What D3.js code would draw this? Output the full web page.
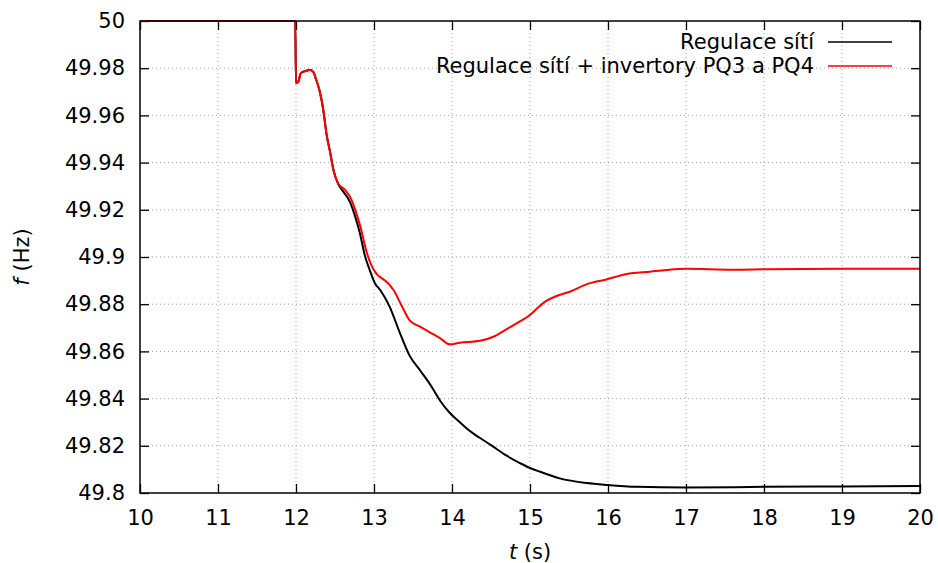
<!DOCTYPE html>
<html>
<head>
<meta charset="utf-8">
<script src="https://cdn.jsdelivr.net/npm/d3@7"></script>
<style>
  body { margin: 0; background: #fff; }
  text { font-family: "DejaVu Sans", sans-serif; }
</style>
</head>
<body>
<div id="container"></div>
<script>
/* DATA */
const xTicks = [10, 11, 12, 13, 14, 15, 16, 17, 18, 19, 20];
const yTicks = [49.8, 49.82, 49.84, 49.86, 49.88, 49.9, 49.92, 49.94, 49.96, 49.98, 50];

const blackT = [10, 11.99, 12.0, 12.03, 12.06, 12.12, 12.18, 12.22, 12.26, 12.31, 12.35, 12.39, 12.44, 12.48, 12.54, 12.6, 12.69, 12.76, 12.82, 12.88, 12.95, 13.01, 13.08, 13.2, 13.33, 13.46, 13.59, 13.72, 13.85, 13.97, 14.1, 14.2, 14.35, 14.5, 14.7, 14.87, 15.0, 15.13, 15.38, 15.73, 15.99, 16.37, 17.0, 18.0, 19.0, 20.0];
const blackF = [50, 50, 49.9736, 49.9743, 49.9778, 49.9788, 49.9792, 49.9785, 49.975, 49.9694, 49.9623, 49.9524, 49.9439, 49.9369, 49.931, 49.928, 49.9235, 49.917, 49.910, 49.901, 49.894, 49.889, 49.886, 49.879, 49.868, 49.858, 49.852, 49.846, 49.839, 49.834, 49.830, 49.827, 49.8235, 49.8203, 49.8158, 49.8127, 49.8106, 49.8090, 49.8062, 49.8042, 49.8034, 49.8026, 49.8023, 49.8026, 49.8028, 49.803];

const redT = [10, 11.99, 12.0, 12.03, 12.06, 12.12, 12.18, 12.22, 12.26, 12.31, 12.35, 12.39, 12.44, 12.48, 12.54, 12.63, 12.69, 12.76, 12.82, 12.91, 12.96, 13.03, 13.1, 13.16, 13.25, 13.36, 13.46, 13.59, 13.72, 13.85, 13.97, 14.1, 14.36, 14.53, 14.62, 14.74, 14.86, 15.0, 15.1, 15.2, 15.35, 15.51, 15.73, 15.98, 16.24, 16.54, 16.75, 17.0, 17.6, 18.03, 19.0, 20.0];
const redF = [50, 50, 49.9736, 49.9743, 49.9778, 49.9788, 49.9792, 49.9785, 49.975, 49.9694, 49.9623, 49.9524, 49.9439, 49.9369, 49.9312, 49.9284, 49.9256, 49.920, 49.9135, 49.9016, 49.897, 49.893, 49.891, 49.8895, 49.886, 49.879, 49.873, 49.8705, 49.868, 49.8655, 49.863, 49.8637, 49.8645, 49.8662, 49.8678, 49.8702, 49.8725, 49.8754, 49.8785, 49.8812, 49.8836, 49.8853, 49.8885, 49.8905, 49.8928, 49.8938, 49.8945, 49.895, 49.8946, 49.8948, 49.895, 49.895];

const seriesNames = ["Regulace sítí", "Regulace sítí + invertory PQ3 a PQ4"];
const seriesColors = ["#000000", "#ff0000"];

/* CONSTANTS */
const width = 938, height = 563;
const pLeft = 140, pRight = 920, pTop = 21, pBottom = 493;
const tickLen = 9;
const fontSize = "21px";

const svg = d3.select("#container").append("svg")
  .attr("width", width)
  .attr("height", height);

/* SCALES */
const xScale = d3.scaleLinear().domain([10, 20]).range([pLeft, pRight]);
const yScale = d3.scaleLinear().domain([49.8, 50]).range([pBottom, pTop]);

/* GRID */
svg.append("g").selectAll("line")
  .data(xTicks.slice(1, -1))
  .join("line")
  .attr("x1", d => xScale(d)).attr("x2", d => xScale(d))
  .attr("y1", pTop).attr("y2", pBottom)
  .attr("stroke", "#a0a0a0").attr("stroke-width", 1)
  .attr("stroke-dasharray", "1,3");

svg.append("g").selectAll("line")
  .data(yTicks.slice(1, -1))
  .join("line")
  .attr("y1", d => yScale(d)).attr("y2", d => yScale(d))
  .attr("x1", pLeft).attr("x2", pRight)
  .attr("stroke", "#a0a0a0").attr("stroke-width", 1)
  .attr("stroke-dasharray", "1,3");

/* AXES (gnuplot style: inward ticks, mirrored) */
const xAxis = d3.axisBottom(xScale).tickValues(xTicks).tickSizeInner(-tickLen).tickSizeOuter(0).tickPadding(17).tickFormat(d3.format("d"));
const yAxis = d3.axisLeft(yScale).tickValues(yTicks).tickSizeInner(-tickLen).tickSizeOuter(0).tickPadding(15).tickFormat(d => d === 50 ? "50" : d3.format(".2~f")(d));

const gx = svg.append("g").attr("transform", `translate(0,${pBottom})`).call(xAxis);
const gy = svg.append("g").attr("transform", `translate(${pLeft},0)`).call(yAxis);
const gxTop = svg.append("g").attr("transform", `translate(0,${pTop})`)
  .call(d3.axisTop(xScale).tickValues(xTicks).tickSizeInner(-tickLen).tickSizeOuter(0).tickFormat(""));
const gyRight = svg.append("g").attr("transform", `translate(${pRight},0)`)
  .call(d3.axisRight(yScale).tickValues(yTicks).tickSizeInner(-tickLen).tickSizeOuter(0).tickFormat(""));

[gx, gy, gxTop, gyRight].forEach(g => {
  g.select(".domain").remove();
  g.selectAll(".tick line").attr("stroke", "#000").attr("stroke-width", 1.3);
  g.selectAll(".tick text").attr("fill", "#000").style("font-size", fontSize).style("font-family", "DejaVu Sans");
});

/* LINES */
const line = d3.line()
  .x(d => xScale(d[0]))
  .y(d => yScale(d[1]))
  .curve(d3.curveMonotoneX);

const blackData = blackT.map((t, i) => [t, blackF[i]]);
const redData = redT.map((t, i) => [t, redF[i]]);

svg.append("clipPath").attr("id", "plotclip")
  .append("rect").attr("x", pLeft).attr("y", pTop - 2).attr("width", pRight - pLeft).attr("height", pBottom - pTop + 2);

svg.append("path")
  .datum(blackData)
  .attr("d", line)
  .attr("fill", "none")
  .attr("stroke", seriesColors[0])
  .attr("stroke-width", 2)
  .attr("clip-path", "url(#plotclip)");

svg.append("path")
  .datum(redData)
  .attr("d", line)
  .attr("fill", "none")
  .attr("stroke", seriesColors[1])
  .attr("stroke-width", 2)
  .attr("clip-path", "url(#plotclip)");

/* BORDER */
svg.append("rect")
  .attr("x", pLeft).attr("y", pTop)
  .attr("width", pRight - pLeft).attr("height", pBottom - pTop)
  .attr("fill", "none").attr("stroke", "#000").attr("stroke-width", 1.5);

/* LEGEND */
const legend = svg.append("g").selectAll("g")
  .data(seriesNames)
  .join("g")
  .attr("transform", (d, i) => `translate(0,${42 + i * 24})`);

legend.append("text")
  .attr("x", 814).attr("y", 0).attr("dy", "0.35em")
  .attr("text-anchor", "end")
  .style("font-size", fontSize)
  .text(d => d);

legend.append("line")
  .attr("x1", 828).attr("x2", 892)
  .attr("y1", 0).attr("y2", 0)
  .attr("stroke", (d, i) => seriesColors[i])
  .attr("stroke-width", 1.5);

/* AXIS TITLES */
const yt = svg.append("text")
  .attr("transform", `translate(29,${(pTop + pBottom) / 2}) rotate(-90)`)
  .attr("text-anchor", "middle")
  .style("font-size", fontSize);
yt.append("tspan").style("font-style", "italic").text("f");
yt.append("tspan").text(" (Hz)");

const xt = svg.append("text")
  .attr("x", (pLeft + pRight) / 2).attr("y", 559)
  .attr("text-anchor", "middle")
  .style("font-size", fontSize);
xt.append("tspan").style("font-style", "italic").text("t");
xt.append("tspan").text(" (s)");
</script>
</body>
</html>
